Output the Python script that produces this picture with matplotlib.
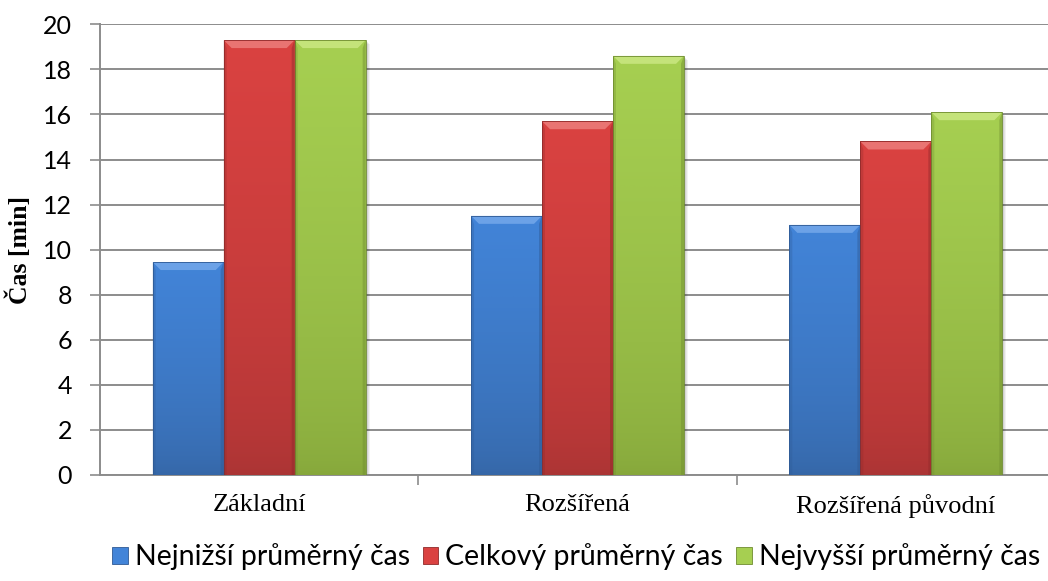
import matplotlib
matplotlib.use("Agg")
import matplotlib.pyplot as plt
import numpy as np
from matplotlib.patches import Rectangle, Polygon
from matplotlib.colors import LinearSegmentedColormap

categories = ["Základní", "Rozšířená", "Rozšířená původní"]
series_names = ["Nejnižší průměrný čas", "Celkový průměrný čas", "Nejvyšší průměrný čas"]
lowest = [9.45, 11.5, 11.1]
overall = [19.3, 15.7, 14.8]
highest = [19.3, 18.6, 16.1]
y_ticks = [0, 2, 4, 6, 8, 10, 12, 14, 16, 18, 20]

series = [lowest, overall, highest]
# (top colour, bottom colour, edge colour, bevel light)
palette = [
    ("#4284d8", "#3566a6", "#2f5a94", "#7fb0ee"),
    ("#da4241", "#aa3434", "#8f2a2a", "#f08a88"),
    ("#a6cf51", "#86a73b", "#6f8c30", "#d2ec8c"),
]

W, H, DPI = 1048, 581, 100
fig = plt.figure(figsize=(W / DPI, H / DPI), dpi=DPI)
fig.patch.set_facecolor("white")

ax_left, ax_right = 100, 1055
ax_top, ax_bot = 24.3, 475.0
ax = fig.add_axes([ax_left / W, (H - ax_bot) / H,
                   (ax_right - ax_left) / W, (ax_bot - ax_top) / H])
ax.set_xlim(-0.5, 2.5)
ax.set_ylim(0, 20)

px_x = (ax_right - ax_left) / 3.0      # pixels per x unit
px_y = (ax_bot - ax_top) / 20.0        # pixels per y unit

bar_w = 0.223
offsets = [-bar_w, 0.0, bar_w]
x = np.arange(len(categories))

grad = np.linspace(0, 1, 256).reshape(-1, 1) ** 0.6

for si, vals in enumerate(series):
    top_c, bot_c, edge_c, light_c = palette[si]
    cmap = LinearSegmentedColormap.from_list(f"g{si}", [bot_c, top_c])
    for xi, v in zip(x, vals):
        x0 = xi + offsets[si] - bar_w / 2
        # soft drop shadow
        for k, a in [(4, 0.05), (3, 0.06), (2, 0.08)]:
            ax.add_patch(Rectangle((x0 + k / px_x, -k / px_y), bar_w, v,
                                   facecolor="black", alpha=a, lw=0, zorder=2))
        rect = Rectangle((x0, 0), bar_w, v, facecolor=top_c,
                         edgecolor="none", zorder=3)
        ax.add_patch(rect)
        im = ax.imshow(grad, cmap=cmap, origin="lower", aspect="auto",
                       extent=(x0, x0 + bar_w, 0, v), zorder=3.1,
                       interpolation="bilinear")
        im.set_clip_path(rect)
        # bevel at the top and down the sides
        bx = 8 / px_x
        by = 8 / px_y
        ax.add_patch(Polygon([(x0, v), (x0 + bar_w, v),
                              (x0 + bar_w - bx, v - by), (x0 + bx, v - by)],
                             closed=True, facecolor=light_c, alpha=0.7,
                             lw=0, zorder=3.3))
        sx = 3 / px_x
        ax.add_patch(Polygon([(x0, v), (x0 + sx, v - by), (x0 + sx, 0), (x0, 0)],
                             closed=True, facecolor=edge_c, alpha=0.3,
                             lw=0, zorder=3.3))
        ax.add_patch(Polygon([(x0 + bar_w, v), (x0 + bar_w - sx, v - by),
                              (x0 + bar_w - sx, 0), (x0 + bar_w, 0)],
                             closed=True, facecolor=edge_c, alpha=0.45,
                             lw=0, zorder=3.3))
        ax.add_patch(Rectangle((x0, 0), bar_w, v, facecolor="none",
                               edgecolor=edge_c, lw=0.6, zorder=3.4))

# gridlines and axes
ax.set_yticks(y_ticks)
ax.yaxis.grid(True, color="#8c8c8c", lw=1.4, zorder=1)
ax.set_axisbelow(True)
for s in ["top", "right"]:
    ax.spines[s].set_visible(False)
for s in ["left", "bottom"]:
    ax.spines[s].set_color("#8c8c8c")
    ax.spines[s].set_linewidth(1.4)

ax.set_xticks([0.5, 1.5], minor=False)
ax.set_xticklabels([])
ax.set_xticks(x, minor=True)
ax.set_xticklabels(categories, minor=True, fontfamily="Liberation Serif",
                   fontsize=19)
ax.tick_params(axis="x", which="major", length=7, width=1.2, color="#8c8c8c",
               direction="out")
ax.tick_params(axis="x", which="minor", length=0, pad=14)
ax.tick_params(axis="y", length=7, width=1.2, color="#8c8c8c", pad=13,
               labelsize=18)
for lab in ax.get_yticklabels():
    lab.set_fontfamily(["Lato", "DejaVu Sans"])

ax.set_ylabel("Čas [min]", fontfamily="Liberation Serif", fontweight="bold",
              fontsize=18.5, labelpad=8)

handles = [Rectangle((0, 0), 1, 1, facecolor=p[0], edgecolor=p[2], lw=0.6)
           for p in palette]
leg = fig.legend(handles, series_names, loc="center",
                 bbox_to_anchor=(576 / W, 1 - 557 / H), ncol=3, frameon=False,
                 prop={"family": ["Lato", "DejaVu Sans"], "size": 20.5},
                 handlelength=0.55, handleheight=0.55, handletextpad=0.25,
                 columnspacing=0.45, borderpad=0)

fig.savefig("out.png", dpi=DPI, facecolor="white")
